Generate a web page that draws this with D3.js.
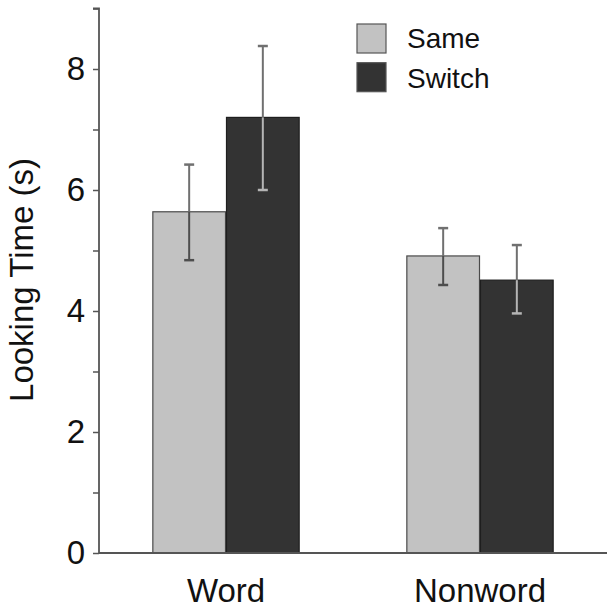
<!DOCTYPE html>
<html><head><meta charset="utf-8">
<script src="https://cdn.jsdelivr.net/npm/d3@7"></script>
<style>body{margin:0;background:#fff}svg{display:block}text{font-family:"Liberation Sans",Arial,sans-serif;fill:#111}</style>
</head><body><svg id="c" width="615" height="613"></svg>
<script>
const categories = ["Word", "Nonword"];
const conditions = ["Same", "Switch"];
const sameValues = [5.64, 4.91];
const switchValues = [7.20, 4.51];
const sameLow = [4.84, 4.43];
const sameHigh = [6.42, 5.37];
const switchLow = [6.00, 3.96];
const switchHigh = [8.38, 5.09];
const majorTicks = [0, 2, 4, 6, 8];
const minorTicks = [1, 3, 5, 7, 9];
const yLabel = "Looking Time (s)";

const colors = {Same: "#c2c2c2", Switch: "#333333"};
const strokes = {Same: "#4a4a4a", Switch: "#1e1e1e"};
const innerErr = {Same: "#4d4d4d", Switch: "#b5b5b5"};

const data = categories.map((c, i) => ({
  cat: c,
  bars: [
    {cond: "Same", v: sameValues[i], lo: sameLow[i], hi: sameHigh[i]},
    {cond: "Switch", v: switchValues[i], lo: switchLow[i], hi: switchHigh[i]}
  ]
}));

const svg = d3.select("#c");
const y = d3.scaleLinear().domain([0, 9]).range([553, 8.5]);
const x = d3.scaleBand().domain(categories).range([99, 607]).paddingInner(0.42).paddingOuter(0.21);
const xs = d3.scaleBand().domain(conditions).range([0, x.bandwidth()]);

// bars
const g = svg.append("g");
const grp = g.selectAll("g.grp").data(data).join("g").attr("transform", d => `translate(${x(d.cat)},0)`);
grp.selectAll("rect").data(d => d.bars).join("rect")
  .attr("x", d => xs(d.cond) + 0.5)
  .attr("y", d => y(d.v))
  .attr("width", xs.bandwidth() - 1)
  .attr("height", d => y(0) - y(d.v))
  .attr("fill", d => colors[d.cond])
  .attr("stroke", d => strokes[d.cond])
  .attr("stroke-width", 1.2);

// error bars
const eb = grp.selectAll("g.eb").data(d => d.bars).join("g").attr("class", "eb")
  .attr("transform", d => `translate(${xs(d.cond) + xs.bandwidth() / 2},0)`);
eb.append("line").attr("y1", d => y(d.hi)).attr("y2", d => y(d.v))
  .attr("stroke", "#707070").attr("stroke-width", 2);
eb.append("line").attr("y1", d => y(d.v)).attr("y2", d => y(d.lo))
  .attr("stroke", d => innerErr[d.cond]).attr("stroke-width", 2);
eb.append("line").attr("x1", -5).attr("x2", 5).attr("y1", d => y(d.hi)).attr("y2", d => y(d.hi))
  .attr("stroke", "#707070").attr("stroke-width", 2.5);
eb.append("line").attr("x1", -5).attr("x2", 5).attr("y1", d => y(d.lo)).attr("y2", d => y(d.lo))
  .attr("stroke", d => d.lo < d.v ? innerErr[d.cond] : "#707070").attr("stroke-width", 2.5);

// y axis
const yAxis = svg.append("g").attr("transform", "translate(99,0)")
  .call(d3.axisLeft(y).tickValues(majorTicks).tickSize(6).tickPadding(8).tickFormat(d3.format("d")));
svg.append("g").attr("transform", "translate(99,0)")
  .call(d3.axisLeft(y).tickValues(minorTicks).tickSize(6).tickFormat(""))
  .call(s => s.select(".domain").remove());
svg.selectAll(".tick line").attr("stroke", "#555").attr("stroke-width", 1.5);
yAxis.select(".domain").attr("d", `M-6,${y(9)}H0V${y(0)}`).attr("stroke", "#555").attr("stroke-width", 1.8).attr("fill", "none");
yAxis.selectAll(".tick text").attr("font-size", 33).attr("fill", "#111");

// x axis
const xAxis = svg.append("g").attr("transform", `translate(0,${y(0)})`)
  .call(d3.axisBottom(x).tickSize(0).tickPadding(26));
xAxis.select(".domain").attr("d", "M99,0H607").attr("stroke", "#555").attr("stroke-width", 2);
xAxis.selectAll(".tick text").attr("font-size", 33).attr("fill", "#111");

// y label
svg.append("text").attr("transform", "translate(33,280) rotate(-90)")
  .attr("text-anchor", "middle").attr("font-size", 33).text(yLabel);

// legend
const leg = svg.append("g").attr("transform", "translate(357,24)");
const li = leg.selectAll("g").data(conditions).join("g").attr("transform", (d, i) => `translate(0,${i * 38.7})`);
li.append("rect").attr("width", 29).attr("height", 29)
  .attr("fill", d => colors[d]).attr("stroke", "#555").attr("stroke-width", 1.2);
li.append("text").attr("x", 50).attr("y", (d, i) => 24 + i * 1).attr("font-size", 28).text(d => d);
</script></body></html>
